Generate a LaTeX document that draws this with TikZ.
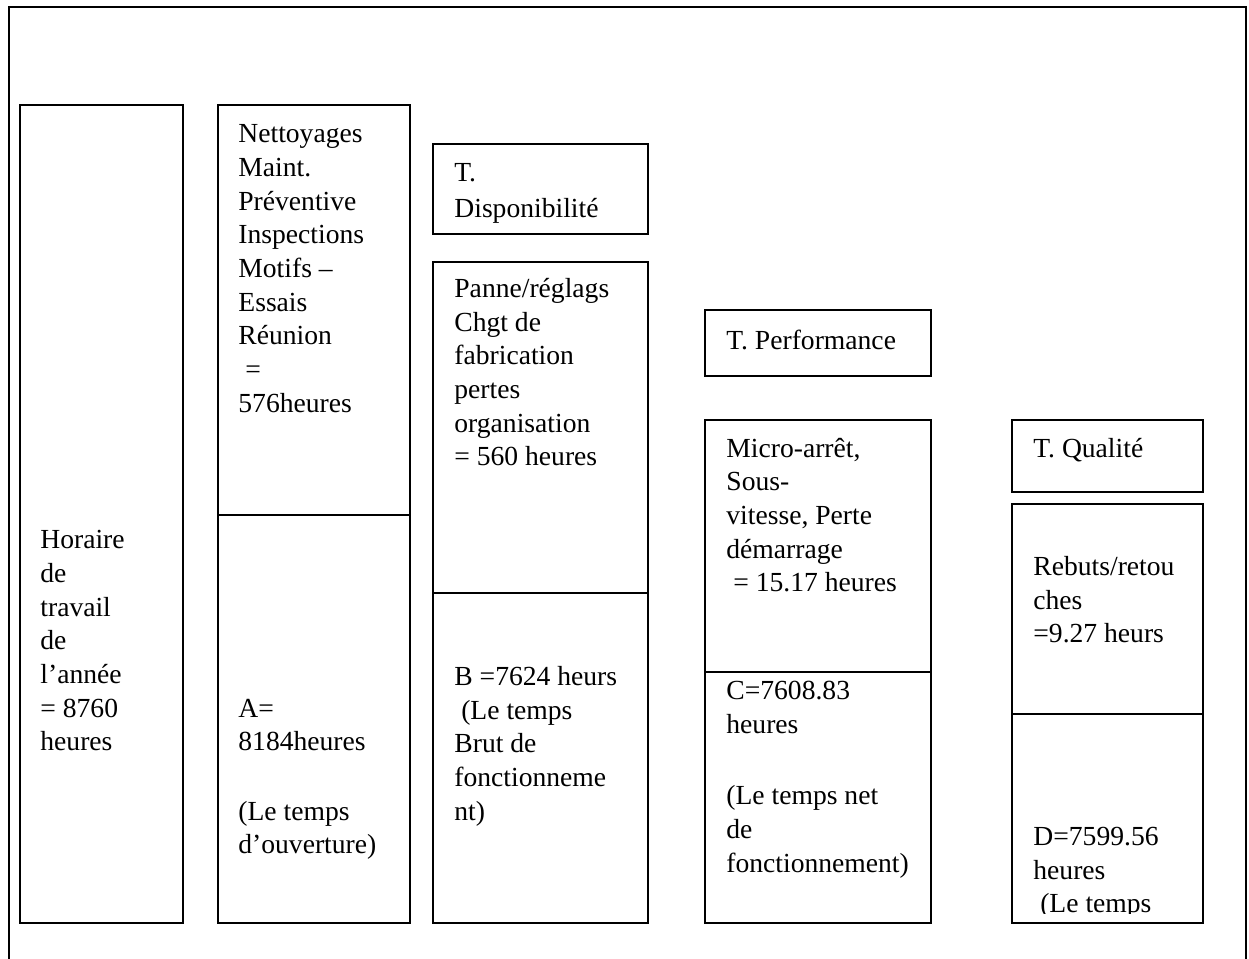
\documentclass[tikz,border=0pt]{standalone}
\usepackage{fontspec}
\setmainfont{Liberation Serif}
\usepackage{tikz}
\usetikzlibrary{positioning}

\begin{document}
\begin{tikzpicture}[
        x=0.5pt, y=-0.5pt,
        cell/.style={rectangle, draw, line width=1pt, anchor=north west, inner sep=0pt, outer sep=0pt},
        txt/.style={anchor=north west, align=left, inner sep=0pt, font=\fontsize{13.8}{16.85}\selectfont}
      ]

      \useasboundingbox (0,0) rectangle (1249,959);

      % Outer frame (open at the bottom)
      \coordinate (frame_bl) at (9,959);
      \coordinate (frame_tl) at (9,7);
      \coordinate (frame_tr) at (1246,7);
      \coordinate (frame_br) at (1246,959);
      \draw[line width=1pt] (frame_bl) -- (frame_tl) -- (frame_tr) -- (frame_br);

      % Column 1 - working hours of the year
      \node[cell, minimum width=81.5pt, minimum height=409pt] (horaire_box) at (20,105) {};
      \node[txt] (horaire_txt) at (40,524.7) {\strut Horaire\\de\\travail\\de\\l’année\\= 8760\\heures};

      % Column 2 - planned stops / opening time
      \node[cell, minimum width=96pt, minimum height=205pt] (nett_box) at (218,105) {};
      \node[cell, minimum width=96pt, minimum height=204pt] (ouv_box) at (218,515) {};
      \node[txt] (nett_txt) at (238,118.7) {\strut Nettoyages\\Maint.\\Préventive\\Inspections\\Motifs –\\Essais\\Réunion\\\ =\\576heures};
      \node[txt] (ouv_txt) at (238,693.1) {\strut A=\\8184heures\\[17.8pt](Le temps\\d’ouverture)};

      % Column 3 - availability
      \node[cell, minimum width=107.5pt, minimum height=45pt] (dispo_box) at (433,144) {};
      \node[txt] (dispo_txt) at (454,157.4) {\strut T.\\[1pt]Disponibilité};
      \node[cell, minimum width=107.5pt, minimum height=165.5pt] (panne_box) at (433,262) {};
      \node[cell, minimum width=107.5pt, minimum height=165pt] (brut_box) at (433,593) {};
      \node[txt] (panne_txt) at (454,273.4) {\strut Panne/réglags\\Chgt de\\fabrication\\pertes\\organisation\\= 560 heures};
      \node[txt] (brut_txt) at (454,661.4) {\strut B =7624 heurs\\\ (Le temps\\Brut de\\fonctionneme\\nt)};

      % Column 4 - performance
      \node[cell, minimum width=113pt, minimum height=33pt] (perf_box) at (705,310) {};
      \node[txt] (perf_txt) at (726,325.4) {\strut T. Performance};
      \node[cell, minimum width=113pt, minimum height=126pt] (micro_box) at (705,420) {};
      \node[cell, minimum width=113pt, minimum height=125.5pt] (net_box) at (705,672) {};
      \node[txt] (micro_txt) at (726,433.1) {\strut Micro-arrêt,\\Sous-\\vitesse, Perte\\démarrage\\\ = 15.17 heures};
      \node[txt] (net_txt) at (726,675.4) {\strut C=7608.83\\heures\\[19pt](Le temps net\\de\\fonctionnement)};

      % Column 5 - quality
      \node[cell, minimum width=95.5pt, minimum height=36pt] (qual_box) at (1012,420) {};
      \node[txt] (qual_txt) at (1033,433.4) {\strut T. Qualité};
      \node[cell, minimum width=95.5pt, minimum height=105pt] (rebut_box) at (1012,504) {};
      \node[cell, minimum width=95.5pt, minimum height=104.5pt] (utile_box) at (1012,714) {};
      \node[txt] (rebut_txt) at (1033,551.4) {\strut Rebuts/retou\\ches\\=9.27 heurs};
      \begin{scope}
        \clip (1012,714) rectangle (1203,913);
        \node[txt] (utile_txt) at (1033,821.4) {\strut D=7599.56\\heures\\\ (Le temps};
      \end{scope}

    \end{tikzpicture}
\end{document}
